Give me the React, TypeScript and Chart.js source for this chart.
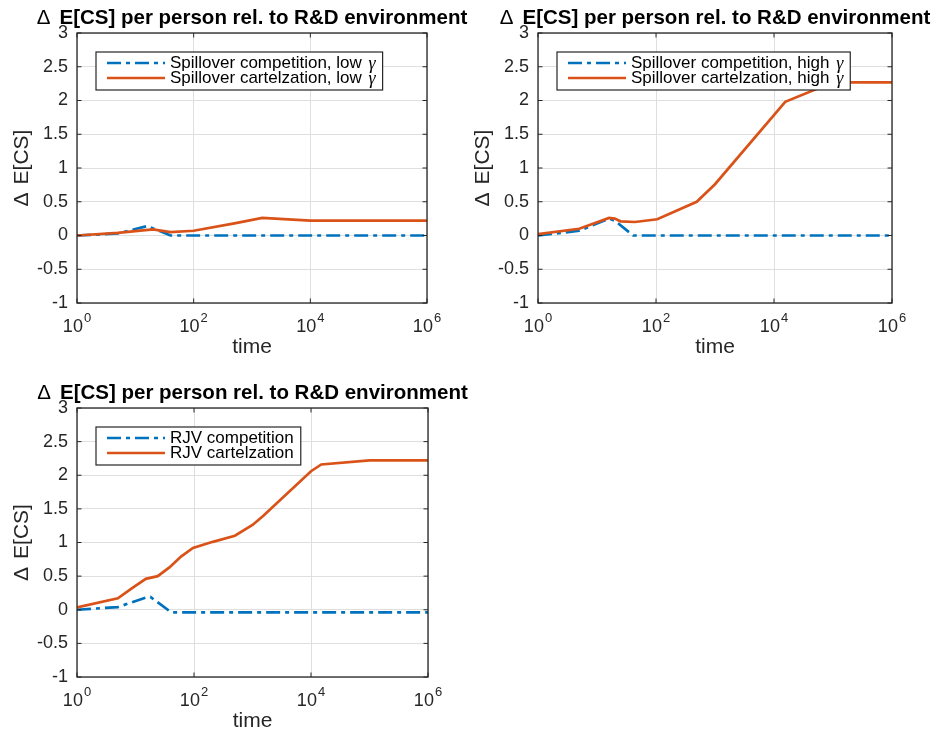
import React, { useEffect, useRef } from "react";
import { Chart, registerables } from "chart.js";

Chart.register(...registerables);

const BLUE = "#0072BD";
const ORANGE = "#D95319";
const INK = "#262626";
const GRID = "#dfdfdf";
const FONT = "'Liberation Sans', Arial, Helvetica, sans-serif";
const GAMMA_FONT = "italic 18px 'Liberation Serif', 'DejaVu Serif', serif";

const TITLE = "Δ E[CS] per person rel. to R&D environment";
const X_LABEL = "time";
const Y_LABEL = "Δ E[CS]";

const X_TICK_VALUES = [1, 100, 10000, 1000000];
const X_TICK_BASE = "10";
const X_TICK_EXPONENTS = ["0", "2", "4", "6"];
const Y_MIN = -1;
const Y_MAX = 3;
const Y_STEP = 0.5;

// Spillover environment, low gamma
const lowCompTime = [1, 5, 16, 40, 1e6];
const lowCompValue = [0, 0.03, 0.14, 0, 0];
const lowCartTime = [1, 5, 20, 40, 100, 500, 1500, 10000, 1e6];
const lowCartValue = [0, 0.04, 0.09, 0.05, 0.07, 0.18, 0.26, 0.22, 0.22];

// Spillover environment, high gamma
const highCompTime = [1, 5, 16, 20, 41, 1e6];
const highCompValue = [0, 0.07, 0.25, 0.22, 0, 0];
const highCartTime = [1, 5, 16, 20, 25, 44, 105, 490, 1000, 15500, 1e5, 1e6];
const highCartValue = [0.02, 0.1, 0.26, 0.25, 0.21, 0.2, 0.24, 0.5, 0.76, 1.98, 2.27, 2.27];

// Research joint venture
const rjvCompTime = [1, 5, 16, 18, 41, 1e6];
const rjvCompValue = [0, 0.04, 0.19, 0.19, -0.04, -0.04];
const rjvCartTime = [1, 5, 9, 15, 24, 38, 60, 96, 210, 500, 1000, 1500, 10000, 15000, 1e5, 1e6];
const rjvCartValue = [0.035, 0.17, 0.33, 0.46, 0.5, 0.63, 0.79, 0.92, 1.01, 1.1, 1.26, 1.39, 2.06, 2.16, 2.22, 2.22];

const lowLabels = ["Spillover competition, low γ", "Spillover cartelzation, low γ"];
const highLabels = ["Spillover competition, high γ", "Spillover cartelzation, high γ"];
const rjvLabels = ["RJV competition", "RJV cartelzation"];

const DASH = [14, 5, 4, 5];

type Area = { l: number; t: number; r: number; b: number };
type Panel = {
  left: number;
  top: number;
  width: number;
  height: number;
  area: Area;
  comp: [number[], number[]];
  cart: [number[], number[]];
  labels: string[];
};

const PANELS: Panel[] = [
  {
    left: 0, top: 0, width: 470, height: 365,
    area: { l: 77, t: 33, r: 427, b: 303 },
    comp: [lowCompTime, lowCompValue],
    cart: [lowCartTime, lowCartValue],
    labels: lowLabels,
  },
  {
    left: 465, top: 0, width: 470, height: 365,
    area: { l: 73, t: 33, r: 427, b: 303 },
    comp: [highCompTime, highCompValue],
    cart: [highCartTime, highCartValue],
    labels: highLabels,
  },
  {
    left: 0, top: 365, width: 470, height: 365,
    area: { l: 77, t: 43, r: 428, b: 312 },
    comp: [rjvCompTime, rjvCompValue],
    cart: [rjvCartTime, rjvCartValue],
    labels: rjvLabels,
  },
];

const toPoints = (t: number[], v: number[]) => t.map((x, i) => ({ x, y: v[i] }));

function splitGamma(label: string): [string, string] {
  return label.endsWith("γ") ? [label.slice(0, -1), "γ"] : [label, ""];
}

// Draws text whose leading "Δ" is set apart by a wider, TeX-like gap,
// optionally in its own (regular-weight) font.
function fillDeltaText(
  ctx: CanvasRenderingContext2D,
  text: string,
  cx: number,
  y: number,
  gap: number,
  headFont?: string
) {
  const bodyFont = ctx.font;
  const cut = text.indexOf(" ");
  const head = text.slice(0, cut);
  const tail = text.slice(cut + 1);
  if (headFont) ctx.font = headFont;
  const wh = ctx.measureText(head).width;
  ctx.font = bodyFont;
  const wt = ctx.measureText(tail).width;
  const x0 = cx - (wh + gap + wt) / 2;
  ctx.textAlign = "left";
  if (headFont) ctx.font = headFont;
  ctx.fillText(head, x0, y);
  ctx.font = bodyFont;
  ctx.fillText(tail, x0 + wh + gap, y);
}

function decorPlugin(panel: Panel) {
  return {
    id: "matlabDecor",
    afterDatasetsDraw(chart: any) {
      const { ctx, chartArea: a, scales } = chart;
      ctx.save();
      // axes box
      ctx.strokeStyle = INK;
      ctx.lineWidth = 1.3;
      ctx.setLineDash([]);
      ctx.strokeRect(a.left, a.top, a.right - a.left, a.bottom - a.top);
      // inward tick marks on all four sides
      const tl = 4.5;
      ctx.lineWidth = 1;
      ctx.beginPath();
      for (let v = Y_MIN; v <= Y_MAX + 1e-9; v += Y_STEP) {
        const y = scales.y.getPixelForValue(v);
        ctx.moveTo(a.left, y);
        ctx.lineTo(a.left + tl, y);
        ctx.moveTo(a.right, y);
        ctx.lineTo(a.right - tl, y);
      }
      X_TICK_VALUES.forEach((v) => {
        const x = scales.x.getPixelForValue(v);
        ctx.moveTo(x, a.bottom);
        ctx.lineTo(x, a.bottom - tl);
        ctx.moveTo(x, a.top);
        ctx.lineTo(x, a.top + tl);
      });
      ctx.stroke();

      // legend
      const textFont = `17px ${FONT}`;
      const widths = panel.labels.map((lab) => {
        const [p, g] = splitGamma(lab);
        ctx.font = textFont;
        let w = ctx.measureText(p).width;
        if (g) {
          ctx.font = GAMMA_FONT;
          w += ctx.measureText(g).width + 2;
        }
        return w;
      });
      const bx = a.left + 19;
      const by = a.top + 19;
      const bw = 74 + Math.max(...widths) + 7;
      const bh = 38;
      ctx.fillStyle = "#ffffff";
      ctx.fillRect(bx, by, bw, bh);
      ctx.strokeStyle = INK;
      ctx.lineWidth = 1.2;
      ctx.strokeRect(bx, by, bw, bh);
      const colors = [BLUE, ORANGE];
      const dashes = [DASH, []];
      panel.labels.forEach((lab, i) => {
        const ry = by + 11 + i * 15;
        ctx.strokeStyle = colors[i];
        ctx.lineWidth = 2.7;
        ctx.setLineDash(dashes[i]);
        ctx.beginPath();
        ctx.moveTo(bx + 11, ry);
        ctx.lineTo(bx + 69, ry);
        ctx.stroke();
        ctx.setLineDash([]);
        const [p, g] = splitGamma(lab);
        ctx.fillStyle = "#000000";
        ctx.textBaseline = "middle";
        ctx.textAlign = "left";
        ctx.font = textFont;
        ctx.fillText(p, bx + 74, ry);
        if (g) {
          const pw = ctx.measureText(p).width;
          ctx.font = GAMMA_FONT;
          ctx.fillText(g, bx + 74 + pw + 2, ry + 1);
        }
      });
      ctx.restore();
    },
    afterDraw(chart: any) {
      const { ctx, chartArea: a, scales } = chart;
      ctx.save();
      ctx.fillStyle = "#000000";
      ctx.textBaseline = "alphabetic";
      // title
      ctx.font = `bold 20.5px ${FONT}`;
      fillDeltaText(ctx, TITLE, (a.left + a.right) / 2, a.top - 9, 9, `20.5px ${FONT}`);

      // x tick labels with superscript exponents
      ctx.fillStyle = INK;
      X_TICK_VALUES.forEach((v, i) => {
        const x = scales.x.getPixelForValue(v);
        ctx.font = `18px ${FONT}`;
        const wb = ctx.measureText(X_TICK_BASE).width;
        ctx.font = `13px ${FONT}`;
        const we = ctx.measureText(X_TICK_EXPONENTS[i]).width;
        const x0 = x - (wb + 1 + we) / 2;
        ctx.textAlign = "left";
        ctx.font = `18px ${FONT}`;
        ctx.fillText(X_TICK_BASE, x0, a.bottom + 28.5);
        ctx.font = `13px ${FONT}`;
        ctx.fillText(X_TICK_EXPONENTS[i], x0 + wb + 1, a.bottom + 18.5);
      });

      // axis titles
      ctx.font = `21px ${FONT}`;
      ctx.textAlign = "center";
      ctx.fillText(X_LABEL, (a.left + a.right) / 2, a.bottom + 49.5);
      ctx.save();
      ctx.translate(a.left - 49, (a.top + a.bottom) / 2);
      ctx.rotate(-Math.PI / 2);
      fillDeltaText(ctx, Y_LABEL, 0, 0, 8);
      ctx.restore();
      ctx.restore();
    },
  };
}

function PanelChart({ panel }: { panel: Panel }) {
  const ref = useRef<HTMLCanvasElement | null>(null);
  useEffect(() => {
    if (!ref.current) return;
    const { area, width, height } = panel;
    const chart = new Chart(ref.current, {
      type: "line",
      data: {
        datasets: [
          {
            label: panel.labels[0],
            data: toPoints(panel.comp[0], panel.comp[1]),
            borderColor: BLUE,
            borderWidth: 2.7,
            borderDash: DASH,
            pointRadius: 0,
            tension: 0,
            order: 2,
          },
          {
            label: panel.labels[1],
            data: toPoints(panel.cart[0], panel.cart[1]),
            borderColor: ORANGE,
            borderWidth: 2.7,
            pointRadius: 0,
            tension: 0,
            order: 1,
          },
        ],
      },
      options: {
        animation: false,
        responsive: false,
        devicePixelRatio: 1,
        events: [],
        layout: { padding: { left: 0, top: area.t, right: width - area.r, bottom: 0 } },
        plugins: { legend: { display: false }, tooltip: { enabled: false }, title: { display: false } },
        scales: {
          x: {
            type: "logarithmic",
            min: 1,
            max: 1e6,
            afterBuildTicks: (s: any) => {
              s.ticks = X_TICK_VALUES.map((value) => ({ value }));
            },
            afterFit: (s: any) => {
              s.height = height - area.b;
            },
            ticks: { display: false },
            grid: { color: GRID, lineWidth: 1, drawTicks: false },
            border: { display: false },
          },
          y: {
            type: "linear",
            min: Y_MIN,
            max: Y_MAX,
            afterFit: (s: any) => {
              s.width = area.l;
            },
            ticks: {
              stepSize: Y_STEP,
              color: INK,
              padding: 9,
              font: { size: 18, family: FONT },
              callback: (v: any) => String(v),
            },
            grid: { color: GRID, lineWidth: 1, drawTicks: false },
            border: { display: false },
          },
        },
      },
      plugins: [decorPlugin(panel)],
    } as any);
    return () => chart.destroy();
  }, [panel]);
  return (
    <canvas
      ref={ref}
      width={panel.width}
      height={panel.height}
      style={{ position: "absolute", left: panel.left, top: panel.top, width: panel.width, height: panel.height }}
    />
  );
}

export default function App() {
  return (
    <div style={{ position: "absolute", left: 0, top: 0, width: 935, height: 730, background: "#ffffff", overflow: "hidden" }}>
      {PANELS.map((p, i) => (
        <PanelChart key={i} panel={p} />
      ))}
    </div>
  );
}
